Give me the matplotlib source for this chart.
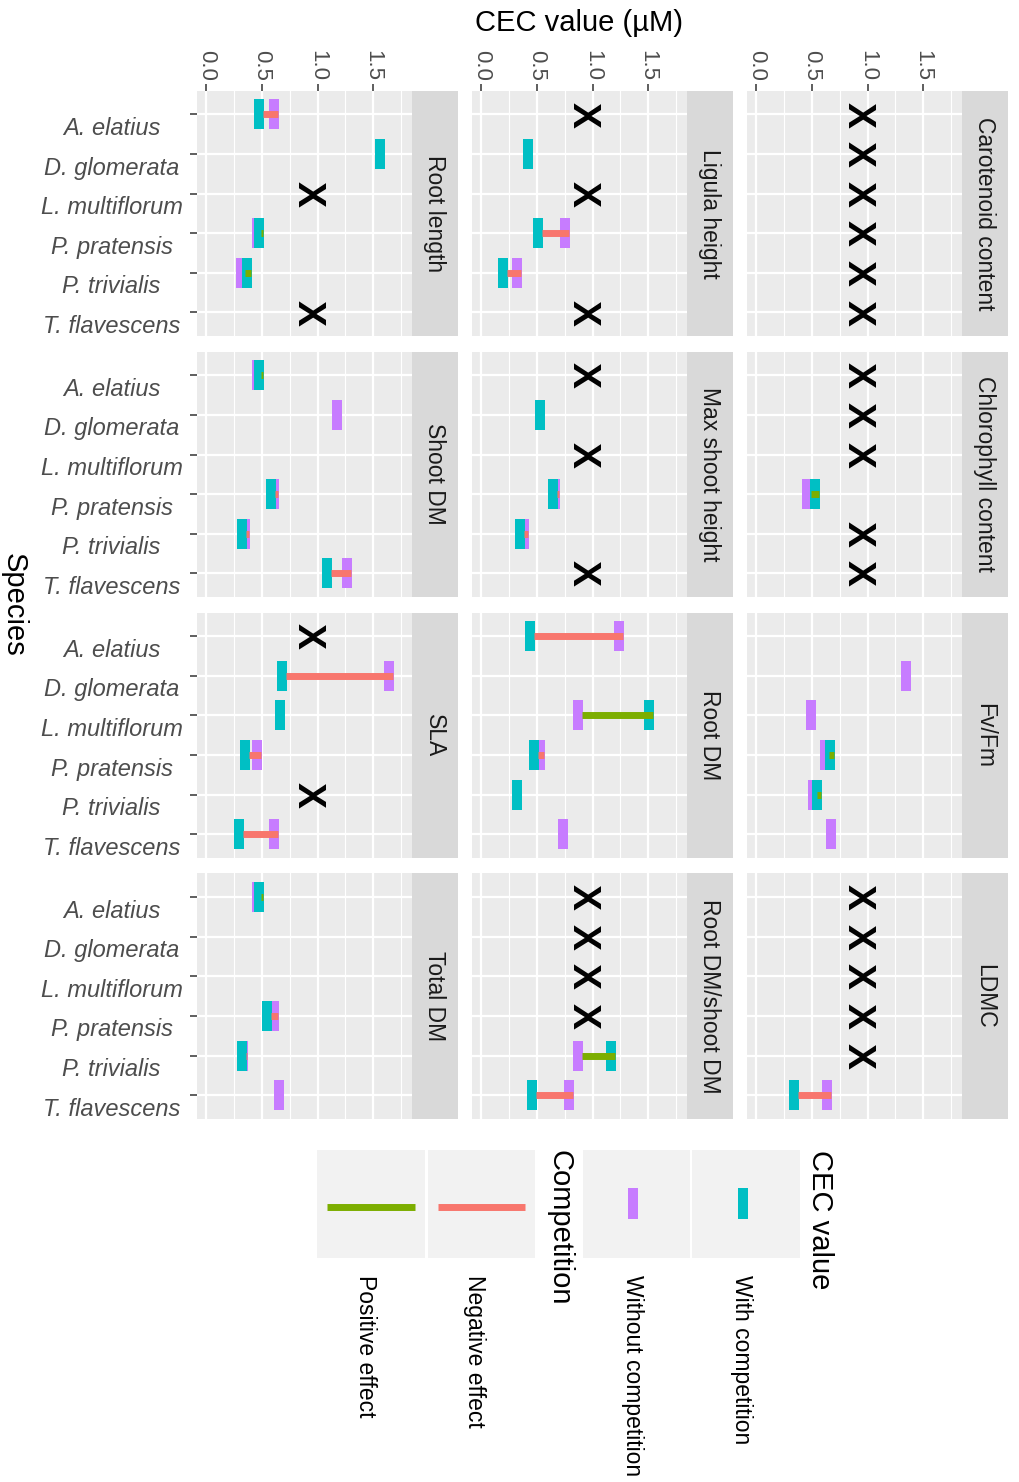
import numpy as np
import matplotlib.pyplot as plt
from matplotlib.path import Path
from matplotlib.patches import Rectangle
from matplotlib.transforms import offset_copy, blended_transform_factory

plt.rcParams['font.family'] = ['Liberation Sans', 'DejaVu Sans']

nan = np.nan

species = ['A. elatius', 'D. glomerata', 'L. multiflorum',
           'P. pratensis', 'P. trivialis', 'T. flavescens']

traits = ['Root length', 'Ligula height', 'Carotenoid content',
          'Shoot DM', 'Max shoot height', 'Chlorophyll content',
          'SLA', 'Root DM', 'Fv/Fm',
          'Total DM', 'Root DM/shoot DM', 'LDMC']

# CEC values (one row per trait, one column per species)
with_comp = [
    [0.505, 1.594, nan, 0.511, 0.401, nan],
    [nan, 0.456, nan, 0.540, 0.227, nan],
    [nan, nan, nan, nan, nan, nan],
    [0.511, nan, nan, 0.616, 0.353, 1.124],
    [nan, 0.561, nan, 0.683, 0.385, nan],
    [nan, nan, nan, 0.565, nan, nan],
    [nan, 0.715, 0.700, 0.386, nan, 0.332],
    [0.474, nan, 1.539, 0.510, 0.352, nan],
    [nan, nan, nan, 0.699, 0.580, nan],
    [0.511, nan, nan, 0.577, 0.353, nan],
    [nan, nan, nan, nan, 1.205, 0.489],
    [nan, nan, nan, nan, nan, 0.370],
]

without_comp = [
    [0.646, nan, nan, 0.490, 0.347, nan],
    [nan, nan, nan, 0.787, 0.352, nan],
    [nan, nan, nan, nan, nan, nan],
    [0.490, 1.208, nan, 0.646, 0.386, 1.298],
    [nan, nan, nan, 0.701, 0.420, nan],
    [nan, nan, nan, 0.489, nan, nan],
    [nan, 1.678, nan, 0.490, nan, 0.646],
    [1.276, nan, 0.907, 0.561, nan, 0.769],
    [nan, 1.383, 0.526, 0.651, 0.544, 0.702],
    [0.490, nan, nan, 0.646, 0.368, 0.685],
    [nan, nan, nan, nan, 0.907, 0.823],
    [nan, nan, nan, nan, nan, 0.666],
]

# species (index) marked with X at CEC = 1
no_effect = [[2, 5], [0, 2, 5], [0, 1, 2, 3, 4, 5],
             [], [0, 2, 5], [0, 1, 2, 4, 5],
             [0, 4], [], [],
             [], [0, 1, 2, 3], [0, 1, 2, 3, 4]]
no_effect_value = 1.0

CYAN = '#00BFC4'
PURPLE = '#C77CFF'
NEG = '#F8766D'
POS = '#7CAE00'

W, H = 1020, 1482
fig = plt.figure(figsize=(W / 100, H / 100), dpi=100)


def rect(x0, y0, w, h):
    return [x0 / W, 1 - (y0 + h) / H, w / W, h / H]


# "|" glyph like marker, sitting mostly left of the value
bar = Path([(-0.56, -1), (0.085, -1), (0.085, 1), (-0.56, 1), (-0.56, -1)],
           [Path.MOVETO, Path.LINETO, Path.LINETO, Path.LINETO, Path.CLOSEPOLY])
bar_size = 22.3

pos = np.arange(len(species))
for k, trait in enumerate(traits):
    r, c = divmod(k, 3)
    x0 = 196.7 + c * 275
    y0 = 90.7 + r * 260.9
    ax = fig.add_axes(rect(x0, y0, 215, 245.5))
    ax.set_facecolor('#EBEBEB')

    wc = np.array(with_comp[k])
    wo = np.array(without_comp[k])
    ax.plot(wo, pos, ls='none', marker=bar, ms=bar_size, mfc=PURPLE, mew=0, zorder=3)
    ax.plot(wc, pos, ls='none', marker=bar, ms=bar_size, mfc=CYAN, mew=0, zorder=4)
    both = ~np.isnan(wc) & ~np.isnan(wo)
    for i in pos[both]:
        col = POS if wc[i] > wo[i] else NEG
        ax.plot([wo[i], wc[i]], [i, i], color=col, lw=5, solid_capstyle='butt', zorder=5)

    x_tr = offset_copy(ax.transData, fig=fig, x=-10, y=0, units='dots')
    for i in no_effect[k]:
        ax.text(no_effect_value, i, 'X', transform=x_tr, rotation=-90,
                ha='center', va='center', fontsize=28, fontweight='bold',
                color='black', zorder=6)

    ax.set_xlim(-0.088, 1.846)
    ax.set_ylim(5.6, -0.6)
    ax.set_xticks([0, 0.5, 1, 1.5])
    ax.set_xticks([0.25, 0.75, 1.25, 1.75], minor=True)
    ax.set_yticks(pos)
    ax.grid(which='major', color='white', lw=1.6)
    ax.grid(which='minor', axis='x', color='white', lw=0.8)
    ax.set_axisbelow(True)
    for s in ax.spines.values():
        s.set_visible(False)
    ax.xaxis.tick_top()
    ax.tick_params(which='minor', length=0)
    ax.tick_params(which='major', length=5, width=1.1, color='#333333',
                   labelcolor='#4D4D4D', labelsize=16, pad=2)
    ax.tick_params(axis='y', labelleft=False)
    if r == 0:
        ax.set_xticklabels(['0.0', '0.5', '1.0', '1.5'], rotation=-90)
        for lab in ax.get_xticklabels():
            lab.set_transform(lab.get_transform() + offset_copy(ax.transData, fig=fig, x=-4, units='dots') - ax.transData)
    else:
        ax.tick_params(axis='x', top=False, labeltop=False)
    if c == 0:
        sp_tr = offset_copy(blended_transform_factory(ax.transAxes, ax.transData),
                            fig=fig, x=0, y=-14, units='dots')
        for i, name in enumerate(species):
            ax.text(-0.396, i, name, transform=sp_tr, ha='center', va='center',
                    style='italic', fontsize=17, color='#4D4D4D', clip_on=False)
    else:
        ax.tick_params(axis='y', left=False)

    sax = fig.add_axes(rect(x0 + 215, y0, 46, 245.5))
    sax.set_facecolor('#D9D9D9')
    sax.set_xticks([])
    sax.set_yticks([])
    for s in sax.spines.values():
        s.set_visible(False)
    sax.text(0.5, 0.5, trait, rotation=-90, ha='center', va='center',
             fontsize=16.5, color='#1A1A1A', transform=sax.transAxes)

# overlay in pixel units for titles and legend
lax = fig.add_axes([0, 0, 1, 1])
lax.set_xlim(0, W)
lax.set_ylim(H, 0)
lax.axis('off')
lax.patch.set_alpha(0)

lax.text(579, 23, 'CEC value (µM)', ha='center', va='center', fontsize=21)
lax.text(14, 605, 'Species', ha='center', va='center', rotation=-90, fontsize=21)

for bx0, bx1 in [(317, 425), (428, 535), (583, 690), (692, 800)]:
    lax.add_patch(Rectangle((bx0, 1150), bx1 - bx0, 108, fc='#F2F2F2', ec='none'))
lax.add_patch(Rectangle((738, 1188), 10, 31, fc=CYAN, ec='none'))
lax.add_patch(Rectangle((628, 1188), 10, 31, fc=PURPLE, ec='none'))
lax.plot([438, 525], [1207, 1207], color=NEG, lw=5, solid_capstyle='butt')
lax.plot([327, 415], [1207, 1207], color=POS, lw=5, solid_capstyle='butt')

lax.text(820, 1150, 'CEC value', rotation=-90, ha='center', va='top', fontsize=21)
lax.text(560, 1150, 'Competition', rotation=-90, ha='center', va='top', fontsize=21)
for lx, lab in [(742, 'With competition'), (633, 'Without competition'),
                (475, 'Negative effect'), (366, 'Positive effect')]:
    lax.text(lx, 1275, lab, rotation=-90, ha='center', va='top', fontsize=16.5)

fig.savefig('out.png', dpi=100)
